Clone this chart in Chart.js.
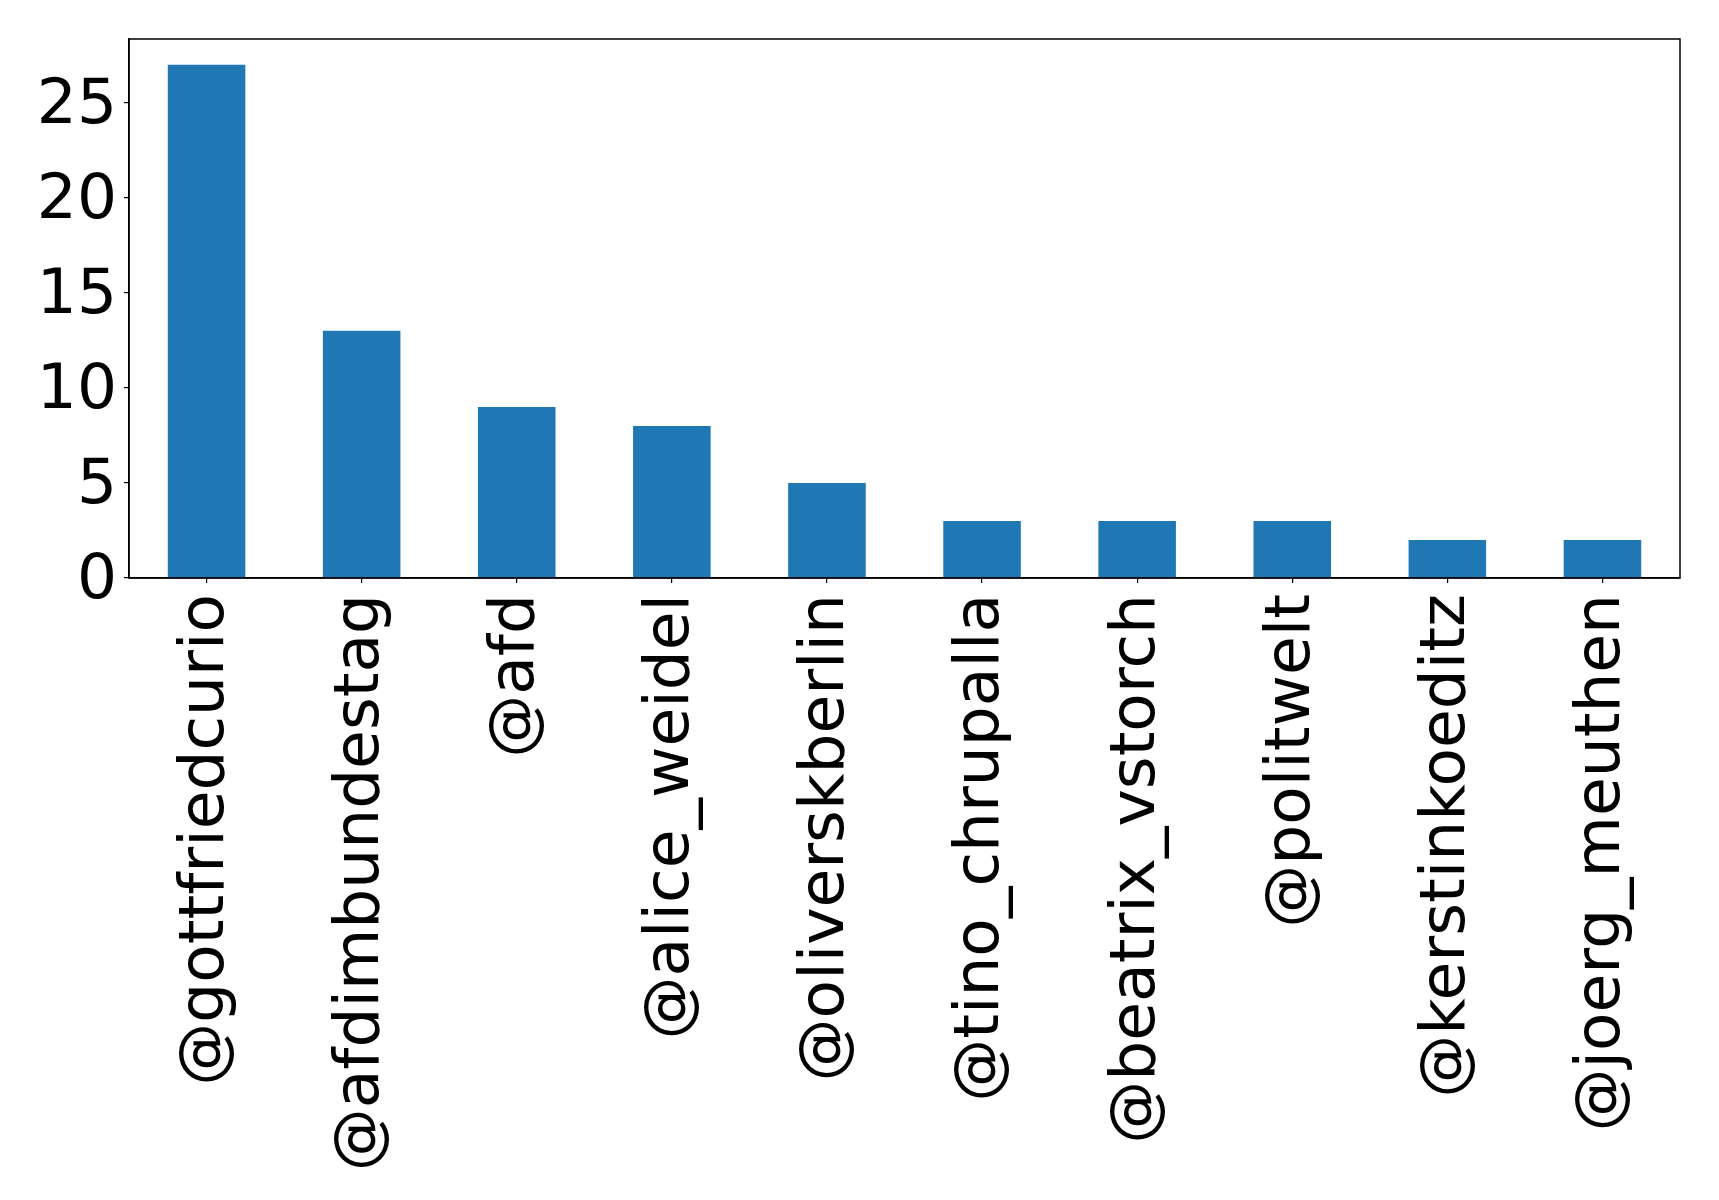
<!DOCTYPE html>
<html lang="en">
  <head>
    <meta charset="UTF-8" />
    <title>Mentions</title>
    <script src="https://cdn.jsdelivr.net/npm/chart.js"></script>
    <style>
      body {
        margin: 0;
        padding: 0;
        background: white;
      }
      canvas {
        display: block;
      }
    </style>
  </head>
  <body>
    <canvas id="barChart" width="1719" height="1200"></canvas>

    <script>
      const accounts = [
        "@gottfriedcurio",
        "@afdimbundestag",
        "@afd",
        "@alice_weidel",
        "@oliverskberlin",
        "@tino_chrupalla",
        "@beatrix_vstorch",
        "@politwelt",
        "@kerstinkoeditz",
        "@joerg_meuthen",
      ];
      const counts = [27, 13, 9, 8, 5, 3, 3, 3, 2, 2];
      const yTicks = [0, 5, 10, 15, 20, 25];

      // box round the plot area, like matplotlib's spines
      const frame = {
        id: "frame",
        afterDraw(chart) {
          const { ctx, chartArea } = chart;
          ctx.save();
          ctx.strokeStyle = "#000";
          ctx.lineWidth = 1.5;
          ctx.strokeRect(
            chartArea.left,
            chartArea.top,
            chartArea.right - chartArea.left,
            chartArea.bottom - chartArea.top
          );
          ctx.restore();
        },
      };

      const font = { family: "DejaVu Sans", size: 63 };

      new Chart(document.getElementById("barChart").getContext("2d"), {
        type: "bar",
        data: {
          labels: accounts,
          datasets: [
            {
              data: counts,
              backgroundColor: "#1f77b4",
              barPercentage: 0.5,
              categoryPercentage: 1.0,
            },
          ],
        },
        options: {
          responsive: false,
          animation: false,
          layout: { padding: { top: 39, right: 39, left: 0, bottom: 0 } },
          plugins: {
            legend: { display: false },
            tooltip: { enabled: false },
          },
          scales: {
            x: {
              grid: {
                display: true,
                offset: false,
                drawOnChartArea: false,
                color: "#000",
                tickLength: 5,
                lineWidth: 1.2,
              },
              border: { display: true, color: "#000", width: 1.5 },
              ticks: {
                color: "#000",
                font: font,
                minRotation: 90,
                maxRotation: 90,
                autoSkip: false,
                padding: 11,
              },
              afterFit(scale) {
                scale.height = 622;
                scale.paddingLeft = 0;
                scale.paddingRight = 0;
              },
            },
            y: {
              min: 0,
              max: 28.35,
              afterBuildTicks(scale) {
                scale.ticks = yTicks.map((v) => ({ value: v }));
              },
              grid: {
                display: true,
                drawOnChartArea: false,
                color: "#000",
                tickLength: 5,
                lineWidth: 1.2,
              },
              border: { display: true, color: "#000", width: 1.5 },
              ticks: {
                color: "#000",
                font: font,
                padding: 7,
                labelOffset: 4,
              },
              afterFit(scale) {
                scale.width = 129;
                scale.paddingTop = 0;
                scale.paddingBottom = 0;
              },
            },
          },
        },
        plugins: [frame],
      });
    </script>
  </body>
</html>
